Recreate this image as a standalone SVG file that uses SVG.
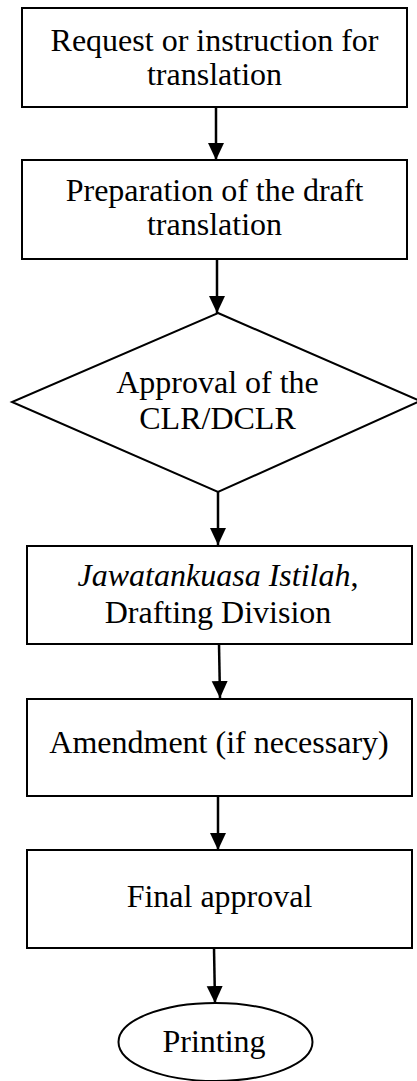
<svg xmlns="http://www.w3.org/2000/svg" width="417" height="1081" viewBox="0 0 417 1081">
<style>
.shape{fill:#ffffff;stroke:#000000;stroke-width:2}
.lbl{font-family:"Liberation Serif","Times New Roman",serif;font-size:32px;fill:#000000;text-anchor:middle}
.conn{stroke:#000000;stroke-width:2.5;fill:none;marker-end:url(#ah)}
</style>
<defs>
<marker id="ah" markerUnits="userSpaceOnUse" markerWidth="18" markerHeight="17" refX="17" refY="8" orient="auto">
<path d="M0,0 L17,8 L0,16 Z" fill="#000000"/>
</marker>
</defs>
<rect width="417" height="1081" fill="#ffffff"/>
<g id="connectors">
<line class="conn" x1="216" y1="107" x2="216" y2="160"/>
<line class="conn" x1="217" y1="259" x2="217" y2="313"/>
<line class="conn" x1="218" y1="492" x2="218" y2="545"/>
<line class="conn" x1="219" y1="644" x2="220" y2="698"/>
<line class="conn" x1="218" y1="796" x2="218" y2="850"/>
<line class="conn" x1="214" y1="948" x2="215" y2="1003"/>
</g>
<g id="n1">
<rect class="shape" x="22" y="8" width="385" height="99"/>
<text class="lbl" x="214.5" y="51">Request or instruction for</text>
<text class="lbl" x="214.5" y="85">translation</text>
</g>
<g id="n2">
<rect class="shape" x="22" y="160" width="385" height="99"/>
<text class="lbl" x="214.5" y="201">Preparation of the draft</text>
<text class="lbl" x="214.5" y="235">translation</text>
</g>
<g id="n3">
<polygon class="shape" points="218,313 420,401 218,492 12,402"/>
<text class="lbl" x="217.5" y="393">Approval of the</text>
<text class="lbl" x="217.5" y="429">CLR/DCLR</text>
</g>
<g id="n4">
<rect class="shape" x="27" y="546" width="385" height="98"/>
<text class="lbl" x="218" y="586"><tspan font-style="italic">Jawatankuasa Istilah</tspan>,</text>
<text class="lbl" x="218" y="623">Drafting Division</text>
</g>
<g id="n5">
<rect class="shape" x="27" y="699" width="385" height="97"/>
<text class="lbl" x="219" y="753">Amendment (if necessary)</text>
</g>
<g id="n6">
<rect class="shape" x="27" y="850" width="385" height="98"/>
<text class="lbl" x="219.5" y="907">Final approval</text>
</g>
<g id="n7">
<ellipse class="shape" cx="215.5" cy="1042" rx="97" ry="39"/>
<text class="lbl" x="214" y="1052">Printing</text>
</g>
</svg>
